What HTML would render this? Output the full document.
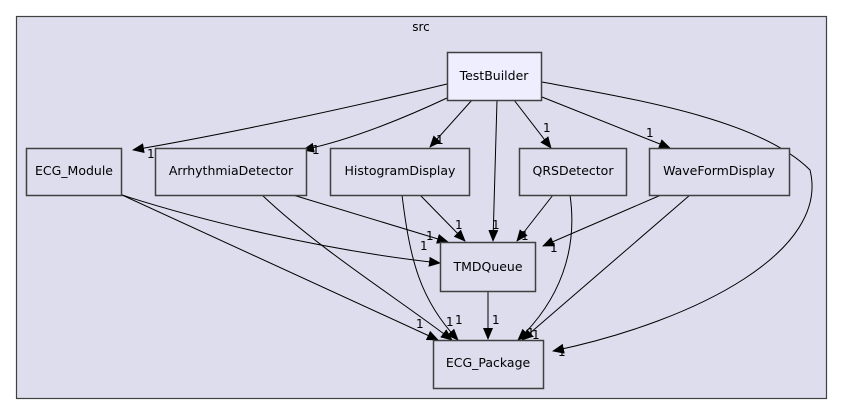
<!DOCTYPE html>
<html><head><meta charset="utf-8"><style>
html,body{margin:0;padding:0;background:#fff;}
svg{display:block;font-family:"DejaVu Sans","Liberation Sans",sans-serif;}
</style></head><body>
<svg width="843" height="415" viewBox="0 0 843 415" xmlns="http://www.w3.org/2000/svg">
<defs>
<marker id="a" markerWidth="12" markerHeight="10" refX="11" refY="5" orient="auto" markerUnits="userSpaceOnUse">
<path d="M0,0 L12,5 L0,10 Z" fill="#000"/></marker>
</defs>
<rect x="16.5" y="16.5" width="810" height="382" fill="#ddddee" stroke="#404040" stroke-width="1.2"/>
<text x="421" y="31" font-size="12" text-anchor="middle">src</text>
<g fill="none" stroke="#000" stroke-width="1" marker-end="url(#a)">
<path d="M447,84 C340,110 220,135 133,150"/>
<path d="M447,98 C400,120 350,140 303,150"/>
<path d="M472,100 L430,147"/>
<path d="M497,100 L493,241"/>
<path d="M514,100 L551,148"/>
<path d="M542,97 L670,148"/>
<path d="M542,82 C640,100 760,120 810,170 C830,250 700,320 553,351"/>
<path d="M122,195 C200,220 320,250 440,263"/>
<path d="M293,195 L448,242"/>
<path d="M420,195 L465,241"/>
<path d="M553,195 L517,241"/>
<path d="M661,195 L543,246"/>
<path d="M122,195 L438,340"/>
<path d="M262,195 C320,250 400,300 452,340"/>
<path d="M402,195 C410,260 420,300 458,340"/>
<path d="M570,195 C578,250 560,300 518,340"/>
<path d="M690,195 L522,340"/>
<path d="M488,291 L488,339"/>
</g>
<g fill="#ddddee" stroke="#404040" stroke-width="1.5">
<rect x="447.5" y="52.5" width="94" height="48" fill="#eeeeff"/>
<rect x="26.5" y="148.5" width="95" height="47"/>
<rect x="155.5" y="148.5" width="151" height="47"/>
<rect x="330.5" y="148.5" width="139" height="47"/>
<rect x="519.5" y="148.5" width="107" height="47"/>
<rect x="649.5" y="148.5" width="140" height="47"/>
<rect x="440.5" y="242.5" width="95" height="49"/>
<rect x="433.5" y="340.5" width="110" height="48"/>
</g>
<g font-size="12.5" text-anchor="middle" fill="#000">
<text x="494" y="80">TestBuilder</text>
<text x="74" y="175">ECG_Module</text>
<text x="231" y="175">ArrhythmiaDetector</text>
<text x="400" y="175">HistogramDisplay</text>
<text x="573" y="175">QRSDetector</text>
<text x="719" y="175">WaveFormDisplay</text>
<text x="488" y="271">TMDQueue</text>
<text x="488" y="367">ECG_Package</text>
</g>
<g font-size="12" fill="#000">
<text x="147" y="158">1</text>
<text x="312" y="154">1</text>
<text x="436" y="144">1</text>
<text x="543" y="132">1</text>
<text x="646" y="137">1</text>
<text x="492" y="229">1</text>
<text x="455" y="229">1</text>
<text x="426" y="240">1</text>
<text x="420" y="250">1</text>
<text x="521" y="240">1</text>
<text x="550" y="252">1</text>
<text x="416" y="328">1</text>
<text x="446" y="326">1</text>
<text x="455" y="324">1</text>
<text x="492" y="324">1</text>
<text x="527" y="337">1</text>
<text x="532" y="339">1</text>
<text x="558" y="356">1</text>
</g>
</svg>
</body></html>
